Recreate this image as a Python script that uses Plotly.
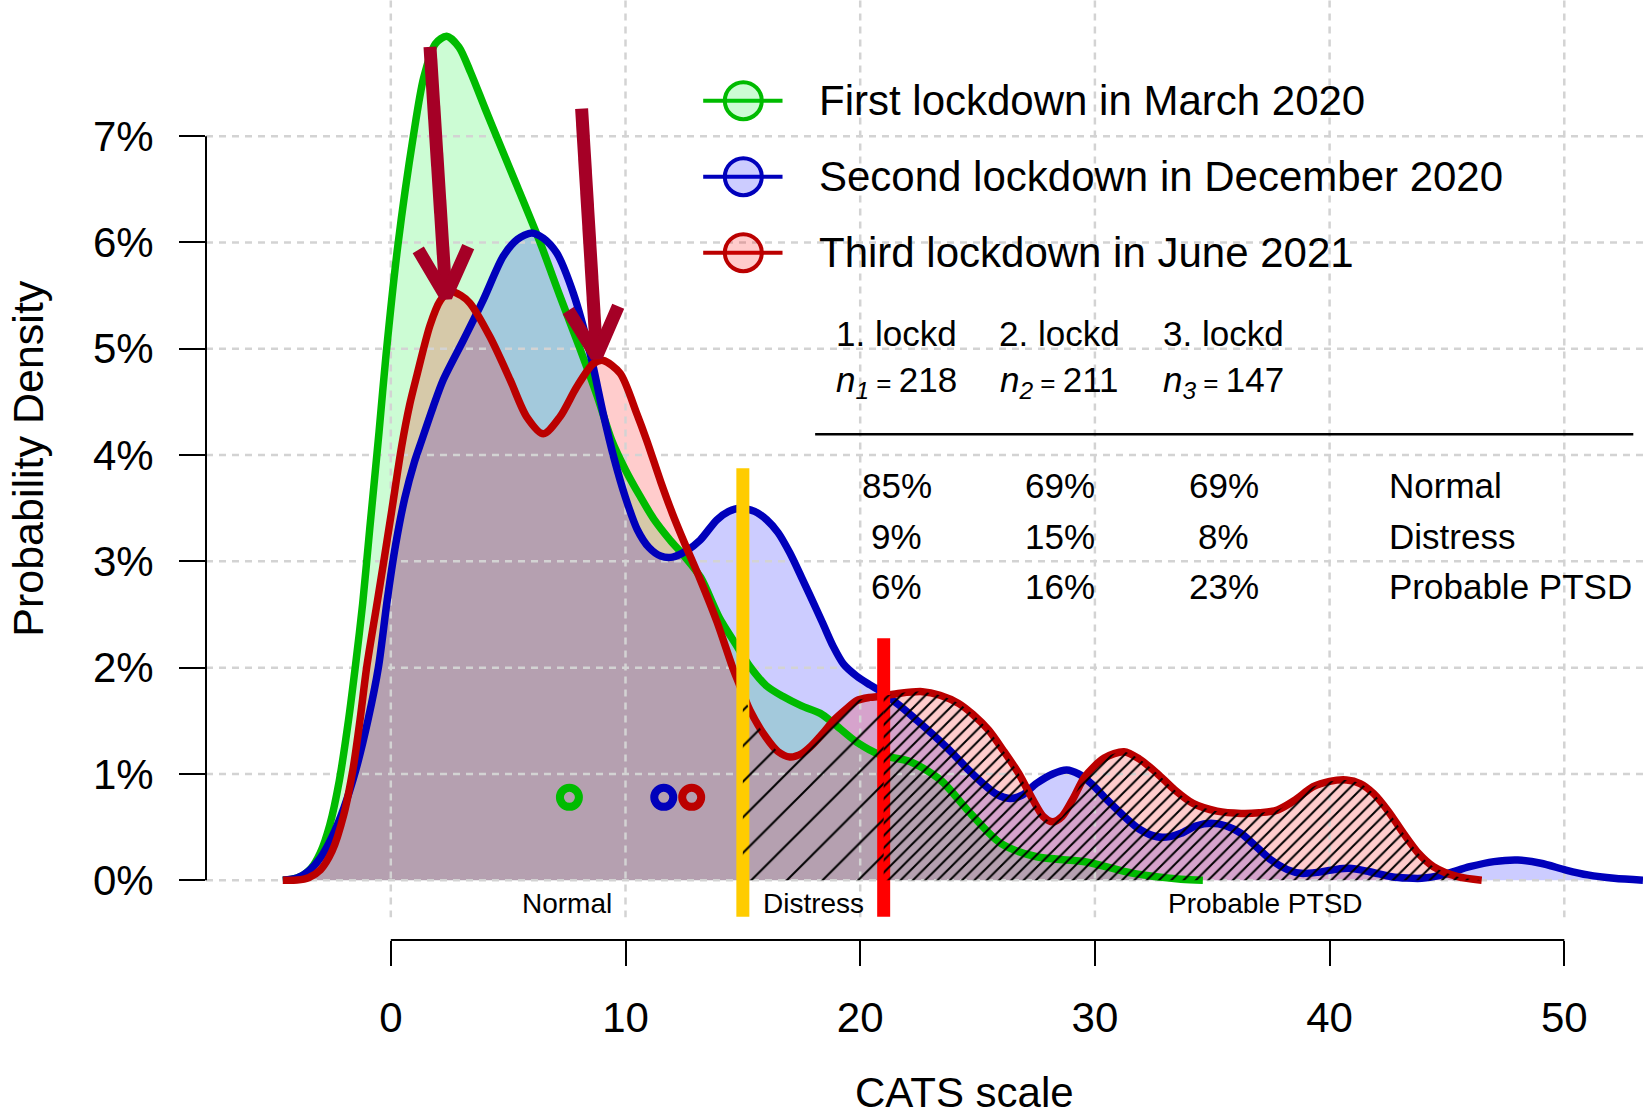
import plotly.graph_objects as go

FONT = "Liberation Sans, Arial, Helvetica, sans-serif"

# ---------------- data ----------------
# Kernel density estimates of the CATS score (density in %) for the three survey waves
cats_first = [-4.6, -4.2, -3.8, -3.4, -3.0, -2.6, -2.2, -1.8, -1.5, -1.2,
              -0.9, -0.5, -0.2, 0.3, 0.96, 1.4, 1.9, 2.38, 2.9, 3.4,
              4.0, 4.5, 5.4, 6.36, 7.2, 8.06, 8.8, 9.41, 10.0, 10.6,
              11.2, 11.9, 12.5, 13.2, 14.0, 14.7, 15.3, 16.0, 16.7, 17.5,
              18.3, 18.85, 19.85, 20.86, 22.14, 23.42, 24.7, 25.99, 27.52, 29.57,
              31.63, 33.67, 34.6]
dens_first = [0, 0.01, 0.04, 0.11, 0.26, 0.52, 0.93, 1.51, 2.03, 2.6,
              3.3, 4.22, 4.95, 5.97, 7.0, 7.55, 7.87, 7.94, 7.84, 7.6,
              7.27, 7.0, 6.52, 6.0, 5.5, 5.0, 4.55, 4.14, 3.86, 3.62,
              3.4, 3.2, 3.05, 2.85, 2.47, 2.22, 2.01, 1.83, 1.73, 1.64,
              1.57, 1.48, 1.3, 1.18, 1.115, 0.943, 0.629, 0.347, 0.221, 0.174,
              0.065, 0.01, 0]

cats_second = [-4.6, -4.0, -3.5, -3.0, -2.5, -2.0, -1.5, -0.97, -0.53, -0.15,
               0.2, 0.6, 1.0, 1.32, 1.8, 2.24, 3.09, 3.94, 4.79, 5.4,
               6.0, 6.5, 7.07, 7.78, 8.49, 9.05, 9.5, 10.0, 10.5, 11.0,
               11.5, 12.0, 12.6, 13.18, 13.89, 14.4, 14.88, 15.5, 16.02, 16.5,
               17.0, 17.5, 17.86, 18.4, 18.85, 19.3, 19.85, 20.4, 20.86, 21.7,
               22.4, 23.2, 23.94, 24.6, 25.22, 25.8, 26.37, 26.9, 27.52, 28.2,
               28.8, 29.3, 29.83, 30.5, 31.11, 31.9, 32.65, 33.2, 33.67, 34.3,
               34.95, 35.6, 36.23, 36.9, 37.51, 38.2, 38.79, 39.5, 40.2, 40.84,
               41.7, 42.64, 43.3, 43.92, 44.8, 45.97, 47.0, 48.02, 49.0, 50.07,
               51.0, 52.12, 53.35]
dens_second = [0, 0.02, 0.086, 0.21, 0.41, 0.68, 1.03, 1.51, 2.0, 2.64,
               3.15, 3.6, 3.93, 4.14, 4.45, 4.71, 5.08, 5.46, 5.87, 6.03,
               6.09, 6.04, 5.9, 5.52, 4.96, 4.39, 3.98, 3.6, 3.3, 3.13,
               3.05, 3.04, 3.1, 3.2, 3.39, 3.47, 3.5, 3.47, 3.39, 3.27,
               3.08, 2.85, 2.68, 2.42, 2.2, 2.03, 1.92, 1.84, 1.78, 1.64,
               1.507, 1.35, 1.194, 1.04, 0.912, 0.81, 0.77, 0.8, 0.912, 1.0,
               1.037, 1.0, 0.912, 0.76, 0.629, 0.48, 0.409, 0.41, 0.441, 0.51,
               0.535, 0.51, 0.441, 0.31, 0.19, 0.1, 0.065, 0.075, 0.1, 0.112,
               0.08, 0.033, 0.02, 0.018, 0.05, 0.127, 0.175, 0.19, 0.16, 0.096,
               0.05, 0.018, 0]

cats_third = [-4.6, -4.0, -3.5, -3.0, -2.5, -2.0, -1.6, -1.31, -1.03, -0.56,
              0.0, 0.46, 0.8, 1.1, 1.67, 2.1, 2.52, 3.0, 3.37, 4.23,
              5.08, 5.79, 6.5, 7.21, 7.92, 8.63, 9.05, 9.77, 10.48, 10.9,
              11.5, 12.0, 12.5, 13.2, 13.9, 14.6, 15.0, 15.3, 16.0, 16.5,
              17.0, 17.5, 17.9, 18.4, 18.85, 19.4, 19.85, 20.4, 20.85, 21.0,
              21.7, 22.65, 23.4, 24.19, 24.8, 25.47, 26.1, 26.75, 27.35, 27.8,
              28.2, 28.6, 29.1, 29.57, 30.4, 31.24, 31.9, 32.65, 33.4, 34.18,
              35.2, 36.23, 37.0, 37.77, 38.5, 39.3, 40.0, 40.72, 41.3, 41.87,
              42.5, 43.15, 43.8, 44.43, 45.46, 46.48]
dens_third = [0, 0.002, 0.024, 0.098, 0.275, 0.62, 1.06, 1.51, 2.0, 2.64,
              3.42, 4.08, 4.47, 4.74, 5.22, 5.45, 5.54, 5.5, 5.43, 5.11,
              4.71, 4.36, 4.2, 4.36, 4.64, 4.86, 4.89, 4.77, 4.39, 4.14,
              3.75, 3.45, 3.18, 2.82, 2.43, 1.98, 1.76, 1.6, 1.34, 1.21,
              1.16, 1.19, 1.26, 1.38, 1.5, 1.61, 1.69, 1.72, 1.73, 1.735,
              1.76, 1.774, 1.74, 1.664, 1.56, 1.413, 1.22, 1.006, 0.76, 0.6,
              0.55, 0.6, 0.78, 0.974, 1.15, 1.209, 1.14, 1.006, 0.85, 0.723,
              0.65, 0.629, 0.635, 0.66, 0.75, 0.88, 0.93, 0.943, 0.91, 0.817,
              0.65, 0.441, 0.25, 0.127, 0.033, 0]

wave_labels = ["First lockdown in March 2020",
               "Second lockdown in December 2020",
               "Third lockdown in June 2021"]
wave_short = ["1. lockd", "2. lockd", "3. lockd"]
wave_n = [218, 211, 147]
wave_means = [7.61, 11.63, 12.82]

cutoffs = [15, 21]
band_names = ["Normal", "Distress", "Probable PTSD"]
band_centers = [7.5, 18, 37.25]
pct_normal = [85, 69, 69]
pct_distress = [9, 15, 8]
pct_ptsd = [6, 16, 23]

x_ticks = [0, 10, 20, 30, 40, 50]
y_ticks = [0, 1, 2, 3, 4, 5, 6, 7]
y_ticklabels = [f"{v}%" for v in y_ticks]

# peak arrows: (x, y) of tail, tip and the two barb ends
arrow_tails = [(1.67, 7.84), (8.13, 7.26)]
arrow_tips = [(2.35, 5.49), (8.77, 4.93)]
arrow_barbs = [((1.17, 5.93), (3.30, 5.96)), ((7.56, 5.36), (9.69, 5.40))]

# ---------------- styles ----------------
X_RANGE = [-7.874, 53.353]
Y_RANGE = [-0.35, 8.281]
line_colors = ["#00BB00", "#0000BB", "#BB0000"]
fill_colors = ["rgba(0,240,40,0.2)", "rgba(0,0,255,0.2)", "rgba(255,0,0,0.2)"]
cut_colors = ["#FFCC00", "#FF0000"]
cut_tops = [3.875, 2.276]
ARROW_COLOR = "#A50026"
GRID_COLOR = "#D3D3D3"
GRID_DASH = "7px,6px"
CURVE_W = 7.5

series = [(cats_first, dens_first), (cats_second, dens_second), (cats_third, dens_third)]

fig = go.Figure()

# translucent density areas
for (xs, ys), fc in zip(series, fill_colors):
    fig.add_trace(go.Scatter(x=xs, y=ys, mode="lines",
                             line=dict(width=0, shape="spline", smoothing=0.8),
                             fill="tozeroy", fillcolor=fc, hoverinfo="skip"))

# dashed reference grid, drawn over the areas
for yv in y_ticks:
    fig.add_trace(go.Scatter(x=X_RANGE, y=[yv, yv], mode="lines",
                             line=dict(color=GRID_COLOR, width=2.5, dash=GRID_DASH),
                             hoverinfo="skip"))
for xv in x_ticks:
    fig.add_trace(go.Scatter(x=[xv, xv], y=Y_RANGE, mode="lines",
                             line=dict(color=GRID_COLOR, width=2.5, dash=GRID_DASH),
                             hoverinfo="skip"))

# density curves
for (xs, ys), lc in zip(series, line_colors):
    fig.add_trace(go.Scatter(x=xs, y=ys, mode="lines",
                             line=dict(color=lc, width=CURVE_W, shape="spline", smoothing=0.8),
                             hoverinfo="skip"))

# cut-off bars
for c, col, top in zip(cutoffs, cut_colors, cut_tops):
    fig.add_trace(go.Scatter(x=[c, c], y=[-0.343, top], mode="lines",
                             line=dict(color=col, width=13), hoverinfo="skip"))

# hatched areas of the third wave: distress band (sparse) and probable PTSD (dense)
lo, hi = cutoffs
distress_idx = [i for i, v in enumerate(cats_third) if lo <= v <= hi]
ptsd_idx = [i for i, v in enumerate(cats_third) if v >= hi]
for idx, size, solid in [(distress_idx, 25.2, 0.08), (ptsd_idx, 8.7, 0.23)]:
    fig.add_trace(go.Scatter(
        x=[cats_third[i] for i in idx], y=[dens_third[i] for i in idx],
        mode="lines", line=dict(width=0, shape="spline", smoothing=0.8),
        fill="tozeroy", fillcolor="rgba(0,0,0,0)",
        fillpattern=dict(shape="/", size=size, solidity=solid,
                         fgcolor="black", bgcolor="rgba(0,0,0,0)", fgopacity=1),
        hoverinfo="skip"))

# wave means
fig.add_trace(go.Scatter(x=wave_means, y=[0.78] * len(wave_means), mode="markers",
                         marker=dict(symbol="circle-open", size=19, color=line_colors,
                                     line=dict(width=8, color=line_colors)),
                         hoverinfo="skip"))

# arrows marking the peaks of the third wave
for (tx, ty), (hx, hy), ((b1x, b1y), (b2x, b2y)) in zip(arrow_tails, arrow_tips, arrow_barbs):
    fig.add_trace(go.Scatter(x=[tx, hx], y=[ty, hy], mode="lines",
                             line=dict(color=ARROW_COLOR, width=13), hoverinfo="skip"))
    fig.add_trace(go.Scatter(x=[b1x, hx, b2x], y=[b1y, hy, b2y], mode="lines",
                             line=dict(color=ARROW_COLOR, width=13), hoverinfo="skip"))

# legend
legend_rows = [7.334, 6.619, 5.904]
for ly, lc, fc, lab in zip(legend_rows, line_colors, fill_colors, wave_labels):
    fig.add_trace(go.Scatter(x=[13.31, 16.69], y=[ly, ly], mode="lines",
                             line=dict(color=lc, width=4), hoverinfo="skip"))
    fig.add_trace(go.Scatter(x=[15.02], y=[ly], mode="markers",
                             marker=dict(symbol="circle", size=37, color=fc,
                                         line=dict(color=lc, width=4)),
                             hoverinfo="skip"))
    fig.add_annotation(x=18.15, y=ly, text=lab, showarrow=False, xanchor="left",
                       yanchor="middle", font=dict(size=42, family=FONT, color="black"))

# summary table
TFONT = dict(size=35, family=FONT, color="black")
col_x = [21.55, 28.5, 35.5]
for cx, name, n, k in zip(col_x, wave_short, wave_n, range(1, 4)):
    fig.add_annotation(x=cx, y=5.145, text=name, showarrow=False, font=TFONT)
    fig.add_annotation(x=cx, y=4.69,
                       text=(f"<i>n</i><sub><i>{k}</i></sub>"
                             f"<span style='font-size:26px'>&nbsp;=&nbsp;</span>{n}"),
                       showarrow=False, font=TFONT)
for row_y, vals, name in zip([3.718, 3.232, 2.761],
                             [pct_normal, pct_distress, pct_ptsd], band_names):
    for cx, v in zip(col_x, vals):
        fig.add_annotation(x=cx, y=row_y, text=f"{v}%", showarrow=False, font=TFONT)
    fig.add_annotation(x=42.45, y=row_y, text=name, showarrow=False, xanchor="left",
                       font=TFONT)
fig.add_shape(type="line", x0=18.08, x1=52.94, y0=4.195, y1=4.195,
              line=dict(color="black", width=2.5))

# band names under the curves
for bx, name in zip(band_centers, band_names):
    fig.add_annotation(x=bx, y=-0.216, text=name, showarrow=False,
                       font=dict(size=28, family=FONT, color="black"))

# axis lines limited to the labelled span
fig.add_shape(type="line", xref="paper", x0=0, x1=0, yref="y", y0=y_ticks[0], y1=y_ticks[-1],
              line=dict(color="black", width=2))
fig.add_shape(type="line", xref="x", x0=x_ticks[0], x1=x_ticks[-1], yref="paper", y0=0, y1=0,
              line=dict(color="black", width=2))

# axis titles
fig.add_annotation(xref="paper", x=0, xshift=-178, xanchor="center",
                   yref="y", y=(Y_RANGE[0] + Y_RANGE[1]) / 2, yanchor="middle",
                   text="Probability Density", textangle=-90, showarrow=False,
                   font=dict(size=43, family=FONT, color="black"))
fig.add_annotation(xref="x", x=24.45, xanchor="center", yref="paper", y=0, yshift=-152,
                   yanchor="middle", text="CATS scale", showarrow=False,
                   font=dict(size=42, family=FONT, color="black"))

fig.update_layout(
    width=1643, height=1112,
    margin=dict(l=206, r=0, t=0, b=172),
    paper_bgcolor="white", plot_bgcolor="white",
    showlegend=False, hovermode=False,
    font=dict(family=FONT, color="black"),
    xaxis=dict(range=X_RANGE, tickvals=x_ticks, ticktext=[str(v) for v in x_ticks],
               ticks="outside", ticklen=25, tickwidth=2, tickcolor="black",
               showline=False, zeroline=False, showgrid=False,
               anchor="free", position=0,
               tickfont=dict(size=42, family=FONT, color="black"),
               ticklabelstandoff=16),
    yaxis=dict(range=Y_RANGE, domain=[0.024, 1], tickvals=y_ticks, ticktext=y_ticklabels,
               ticks="outside", ticklen=26, tickwidth=2, tickcolor="black",
               showline=False, zeroline=False, showgrid=False,
               tickfont=dict(size=42, family=FONT, color="black"),
               ticklabelstandoff=17),
)

fig.write_html("out.html")
